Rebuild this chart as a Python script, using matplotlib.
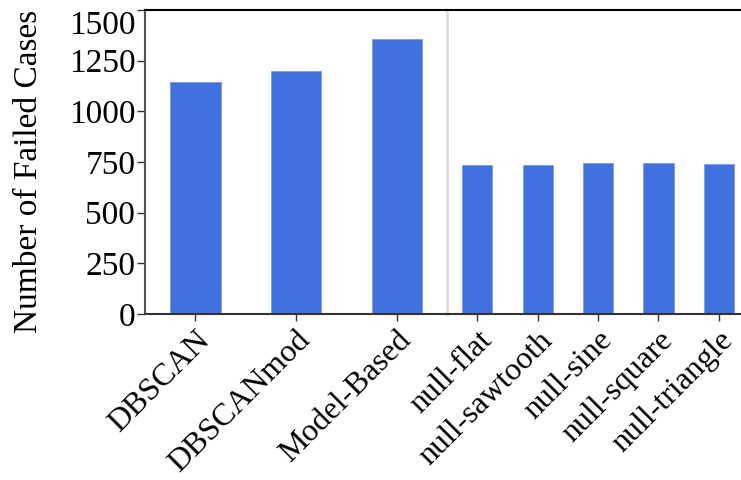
import matplotlib
matplotlib.use("Agg")
import matplotlib.pyplot as plt

# Failed cases per method
methods = ["DBSCAN", "DBSCANmod", "Model-Based"]
method_failed = [1143, 1200, 1355]

null_models = ["null-flat", "null-sawtooth", "null-sine", "null-square", "null-triangle"]
null_failed = [734, 734, 744, 744, 739]

yticks = [0, 250, 500, 750, 1000, 1250, 1500]

plt.rcParams["font.family"] = ["Liberation Serif", "DejaVu Serif"]

W, H = 741, 480
fig = plt.figure(figsize=(W / 100, H / 100), dpi=100)

left, bottom, top = 145, 314, 10
panel_w = 302
ax1 = fig.add_axes([left / W, (H - bottom) / H, panel_w / W, (bottom - top) / H])
ax2 = fig.add_axes([(left + panel_w) / W, (H - bottom) / H, panel_w / W, (bottom - top) / H])

bar_color = "#4170df"
fs = 24
fs_x = 23

for ax, cats, vals in [(ax1, methods, method_failed), (ax2, null_models, null_failed)]:
    x = list(range(len(cats)))
    ax.bar(x, vals, width=0.5, color=bar_color, edgecolor="#7f9ce9", linewidth=0.6)
    ax.set_xlim(-0.5, len(cats) - 0.5)
    ax.set_ylim(0, 1500)
    ax.set_xticks(x)
    ax.set_xticklabels(cats, rotation=45, ha="right", rotation_mode="anchor", fontsize=fs_x)
    ax.tick_params(axis="x", length=5, width=1, color="#333333", pad=3.5)
    ax.spines["right"].set_visible(False)
    ax.spines["top"].set_color("black")
    ax.spines["top"].set_linewidth(1.5)
    ax.spines["bottom"].set_color("#333333")
    ax.spines["bottom"].set_linewidth(1.5)

ax1.set_yticks(yticks)
ax1.set_yticklabels([str(v) for v in yticks], fontsize=fs)
ax1.tick_params(axis="y", length=6, width=1, color="#333333", pad=1)
# keep the top tick label inside the canvas
ax1.get_yticklabels()[-1].set_va("top")
ax1.spines["left"].set_color("#555555")
ax1.spines["left"].set_linewidth(1.5)
ax1.set_ylabel("Number of Failed Cases", fontsize=fs)
ax1.yaxis.set_label_coords(-0.334, 0.47)

ax2.set_yticks([])
ax2.spines["left"].set_color("#dddddd")
ax2.spines["left"].set_linewidth(2)

fig.savefig("out.png", dpi=100)
